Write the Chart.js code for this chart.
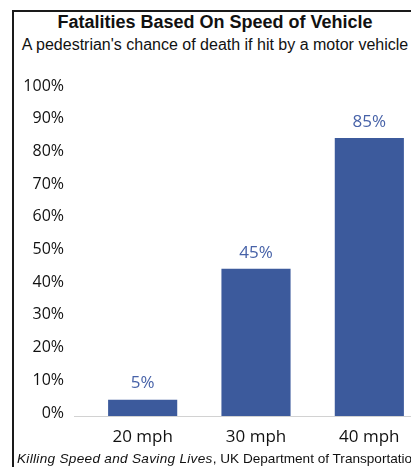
<!DOCTYPE html>
<html><head><meta charset="utf-8">
<script src="https://cdn.jsdelivr.net/npm/chart.js@4"></script>
<style>
html,body{margin:0;padding:0;width:411px;height:467px;overflow:hidden;background:#fff;}
#frame{position:absolute;left:12px;top:10px;width:420px;height:470px;border-left:2px solid #1a1a1a;border-top:2px solid #1a1a1a;}
#title{position:absolute;left:0;width:430px;top:12px;text-align:center;font:bold 18px "Liberation Sans",Arial,sans-serif;color:#111;white-space:nowrap;}
#sub{position:absolute;left:0;width:430px;top:36px;text-align:center;font:16px "Liberation Sans",Arial,sans-serif;color:#111;white-space:nowrap;}
#foot{position:absolute;left:17px;top:451px;font:13.6px "Liberation Sans",Arial,sans-serif;color:#111;white-space:nowrap;}
#foot i{letter-spacing:0.3px;}
#wrap{position:absolute;left:0;top:0;width:426px;height:467px;}
</style></head>
<body>
<div id="frame"></div>
<div id="title">Fatalities Based On Speed of Vehicle</div>
<div id="sub">A pedestrian's chance of death if hit by a motor vehicle</div>
<div id="wrap"><canvas id="c"></canvas></div>
<div id="foot"><i>Killing Speed and Saving Lives</i><span>, UK Department of Transportation</span></div>
<script>
const categories = ["20 mph", "30 mph", "40 mph"];
const fatalityPct = [5, 45, 85];
const yTicks = [0, 10, 20, 30, 40, 50, 60, 70, 80, 90, 100];

const valueLabels = {
  id: 'valueLabels',
  afterDatasetsDraw(chart) {
    const ctx = chart.ctx;
    const meta = chart.getDatasetMeta(0);
    ctx.save();
    ctx.font = '17px "Open Sans", sans-serif';
    ctx.fillStyle = '#4762a8';
    ctx.textAlign = 'center';
    ctx.textBaseline = 'middle';
    meta.data.forEach((bar, i) => {
      ctx.fillText(fatalityPct[i] + '%', bar.x, bar.y - 16);
    });
    ctx.restore();
  }
};

const baseLine = {
  id: 'baseLine',
  afterDatasetsDraw(chart) {
    const ctx = chart.ctx;
    const y0 = chart.scales.y.getPixelForValue(0);
    ctx.save();
    ctx.strokeStyle = '#d2d2d2';
    ctx.lineWidth = 1;
    ctx.beginPath();
    ctx.moveTo(chart.chartArea.left - 12, y0 + 0.5);
    ctx.lineTo(chart.chartArea.right, y0 + 0.5);
    ctx.stroke();
    ctx.restore();
  }
};

new Chart(document.getElementById('c'), {
  type: 'bar',
  data: {
    labels: categories,
    datasets: [{
      data: fatalityPct,
      backgroundColor: '#3c5a9c',
      borderWidth: 0,
      categoryPercentage: 1,
      barPercentage: 0.61
    }]
  },
  options: {
    responsive: true,
    maintainAspectRatio: false,
    animation: false,
    layout: { padding: { top: 89, right: 0, left: 0, bottom: 0 } },
    plugins: { legend: { display: false }, tooltip: { enabled: false } },
    scales: {
      x: {
        grid: { display: false, drawTicks: false },
        border: { display: false },
        ticks: { color: '#111', font: { family: '"Open Sans", sans-serif', size: 17 }, padding: 11 },
        afterFit(s) { s.height = 51; }
      },
      y: {
        min: 0, max: 100,
        afterBuildTicks(s) { s.ticks = yTicks.map(v => ({ value: v })); },
        grid: { display: false, drawTicks: false },
        border: { display: false },
        ticks: { color: '#111', font: { family: '"Open Sans", sans-serif', size: 16 }, padding: 22,
          labelOffset: -3, callback: v => v + '%' },
        afterFit(s) { s.width = 86; }
      }
    }
  },
  plugins: [valueLabels, baseLine]
});
</script>
</body></html>
